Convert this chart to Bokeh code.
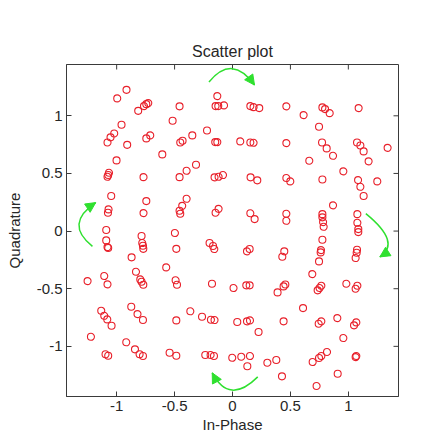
from bokeh.plotting import figure
from bokeh.models import Range1d, FixedTicker, Arrow, NormalHead, ColumnDataSource
from bokeh.embed import file_html
from bokeh.resources import INLINE
import numpy as np

# received symbols
in_phase = [
    -0.915, -0.995, -0.764, -0.744, -0.727, -0.814, -0.457, -0.131, -0.146, -0.123,
    -0.073, 0.154, 0.182, 0.231, 0.465, 0.776, 0.799, 0.839, 1.089, 0.614,
    0.747, -0.958, -0.517, -0.220, -0.347, -1.021, -1.053, -1.079, -0.909, -0.744,
    -0.710, -0.451, -0.431, -0.149, -0.131, 0.067, 0.154, 0.182, 0.465, 0.773,
    0.813, 1.075, 1.104, 1.132, 1.339, 0.868, 0.663, 1.175, 0.957, -0.606,
    -1.001, -1.066, -1.073, -1.079, -0.768, -0.457, -0.155, -0.120, -0.082, 0.156,
    0.214, 0.465, 0.499, 0.776, 1.084, 1.104, 1.250, -0.315, -0.396, -1.047,
    -0.744, -0.396, -0.434, 1.132, 0.868, -1.070, -1.075, -0.768, -0.457, -0.451,
    -0.120, -0.146, 0.154, 0.191, 0.465, 0.465, 0.776, 0.776, 0.782, 0.787,
    1.078, 1.078, 1.086, -1.090, -1.090, -1.079, -1.073, -0.785, -0.779, -0.773,
    -0.770, -0.497, -0.485, -0.198, -0.168, -0.157, 0.125, 0.148, 0.447, 0.430,
    1.086, 0.776, 0.764, 0.761, 1.075, 1.072, 1.063, 0.747, -0.871, -0.572,
    -0.833, 0.689, -1.107, -1.251, -1.079, -0.796, -0.785, -0.770, -0.491, -0.479,
    -0.177, 0.009, 0.119, 0.148, 0.389, 0.441, 0.456, 0.767, 0.752, 0.735,
    0.983, 1.078, 1.063, -0.874, -1.133, -1.107, -1.081, -1.044, -0.820, -0.773,
    -0.485, -0.364, -0.263, -0.186, -0.155, 0.041, 0.125, 0.151, 0.225, 0.441,
    0.609, 0.905, 0.767, 0.744, 1.069, 1.049, 0.957, -1.222, -0.917, -0.842,
    -0.802, -0.773, -1.096, -1.073, -0.543, -0.485, -0.235, -0.189, -0.160, -0.002,
    0.076, 0.151, 0.128, 0.301, 0.378, 0.427, 0.816, 0.767, 0.747, 0.692,
    1.063, 1.069, 0.908, 0.726,
]
quadrature = [
    1.225, 1.151, 1.084, 1.101, 1.110, 1.043, 1.082, 1.171, 1.084, 1.084,
    1.090, 1.084, 1.075, 1.067, 1.082, 1.073, 1.058, 1.023, 1.067, 1.006,
    0.905, 0.922, 0.957, 0.873, 0.830, 0.847, 0.813, 0.769, 0.748, 0.804,
    0.830, 0.769, 0.783, 0.772, 0.772, 0.778, 0.769, 0.766, 0.763, 0.769,
    0.717, 0.769, 0.743, 0.691, 0.722, 0.653, 0.610, 0.605, 0.518, 0.665,
    0.613, 0.506, 0.486, 0.471, 0.468, 0.468, 0.466, 0.471, 0.486, 0.466,
    0.440, 0.460, 0.431, 0.448, 0.442, 0.384, 0.431, 0.575, 0.523, 0.304,
    0.260, 0.280, 0.219, 0.304, 0.223, 0.188, 0.159, 0.156, 0.176, 0.150,
    0.193, 0.159, 0.154, 0.104, 0.150, 0.089, 0.147, 0.119, 0.078, 0.037,
    0.147, 0.072, 0.017, 0.009, -0.081, -0.139, -0.147, -0.043, -0.104, -0.127,
    -0.154, -0.017, -0.154, -0.104, -0.130, -0.156, -0.176, -0.156, -0.176, -0.223,
    -0.009, -0.075, -0.165, -0.185, -0.162, -0.188, -0.234, -0.263, -0.228, -0.315,
    -0.353, -0.373, -0.390, -0.434, -0.462, -0.419, -0.440, -0.466, -0.427, -0.466,
    -0.457, -0.494, -0.471, -0.471, -0.532, -0.480, -0.464, -0.474, -0.494, -0.514,
    -0.457, -0.474, -0.500, -0.657, -0.691, -0.735, -0.766, -0.821, -0.720, -0.772,
    -0.775, -0.696, -0.743, -0.769, -0.772, -0.789, -0.783, -0.775, -0.876, -0.783,
    -0.668, -0.755, -0.783, -0.804, -0.792, -0.818, -0.928, -0.917, -0.965, -1.026,
    -1.069, -1.084, -1.069, -1.082, -1.056, -1.082, -1.075, -1.075, -1.084, -1.099,
    -1.090, -1.084, -1.173, -1.142, -1.119, -1.260, -1.049, -1.084, -1.101, -1.136,
    -1.093, -1.084, -1.238, -1.344,
]

tick_values = [-1, -0.5, 0, 0.5, 1]
tick_labels = ["-1", "-0.5", "0", "0.5", "1"]

# rotation arrows (curve start, control point, arrow tip)
arrow_x0 = [-0.203, 1.151, 0.218, -1.209]
arrow_y0 = [1.293, 0.151, -1.265, -0.132]
arrow_cx = [-0.002, 1.460, -0.028, -1.455]
arrow_cy = [1.538, -0.102, -1.511, 0.063]
arrow_x1 = [0.190, 1.272, -0.175, -1.181]
arrow_y1 = [1.267, -0.224, -1.230, 0.247]

FONT = "Liberation Sans"
TEXT = "#262626"
AXIS = "#3a3a3a"
RED = "#e8202a"
GREEN = "#2fe02f"

x_range = Range1d(-1.433, 1.433)
y_range = Range1d(-1.435, 1.445)

p = figure(width=428, height=435, x_range=x_range, y_range=y_range,
           output_backend="svg", toolbar_location=None,
           min_border_left=66, min_border_right=30,
           min_border_top=64, min_border_bottom=39,
           title="Scatter plot")
p.background_fill_color = "white"
p.border_fill_color = "white"
p.grid.visible = False
p.outline_line_color = AXIS
p.outline_line_width = 1

p.title.align = "center"
p.title.text_font = FONT
p.title.text_font_size = "16px"
p.title.text_font_style = "normal"
p.title.text_color = TEXT
p.title.standoff = 10

overrides = {v: s for v, s in zip(tick_values, tick_labels)}

for ax in [p.xaxis[0], p.yaxis[0]]:
    ax.ticker = FixedTicker(ticks=tick_values)
    ax.major_label_overrides = overrides
    ax.major_tick_in = 5
    ax.major_tick_out = 0
    ax.minor_tick_in = 0
    ax.minor_tick_out = 0
    ax.axis_line_color = AXIS
    ax.major_tick_line_color = AXIS
    ax.major_label_text_font = FONT
    ax.major_label_text_font_size = "15px"
    ax.major_label_text_color = TEXT
    ax.major_label_standoff = 4
    ax.axis_label_text_font = FONT
    ax.axis_label_text_font_size = "15px"
    ax.axis_label_text_font_style = "normal"
    ax.axis_label_text_color = TEXT

p.xaxis[0].axis_label_standoff = 2
p.yaxis[0].axis_label_standoff = 11
p.xaxis[0].axis_label = "In-Phase"
p.yaxis[0].axis_label = "Quadrature"

# inward ticks on the top and right edges of the box
p.ray(x=tick_values, y=[y_range.end] * len(tick_values), length=5,
      length_units="screen", angle=-np.pi / 2, line_color=AXIS, line_width=1)
p.ray(x=[x_range.end] * len(tick_values), y=tick_values, length=5,
      length_units="screen", angle=np.pi, line_color=AXIS, line_width=1)

src = ColumnDataSource(dict(x=in_phase, y=quadrature))
p.scatter("x", "y", source=src, marker="circle", size=7,
          fill_color=None, line_color=RED, line_width=1.1)

p.quadratic(x0=arrow_x0, y0=arrow_y0, x1=arrow_x1, y1=arrow_y1,
            cx=arrow_cx, cy=arrow_cy, line_color=GREEN, line_width=1.5)

for x0, y0, cx, cy, x1, y1 in zip(arrow_x0, arrow_y0, arrow_cx, arrow_cy, arrow_x1, arrow_y1):
    d = np.array([x1 - cx, y1 - cy])
    d = d / np.hypot(*d)
    sx, sy = x1 - 0.03 * d[0], y1 - 0.03 * d[1]
    p.add_layout(Arrow(end=NormalHead(size=10, fill_color=GREEN, line_color=GREEN),
                       x_start=sx, y_start=sy, x_end=x1, y_end=y1,
                       line_color=GREEN, line_width=1.5))

open("out.html", "w").write(file_html(p, INLINE))
